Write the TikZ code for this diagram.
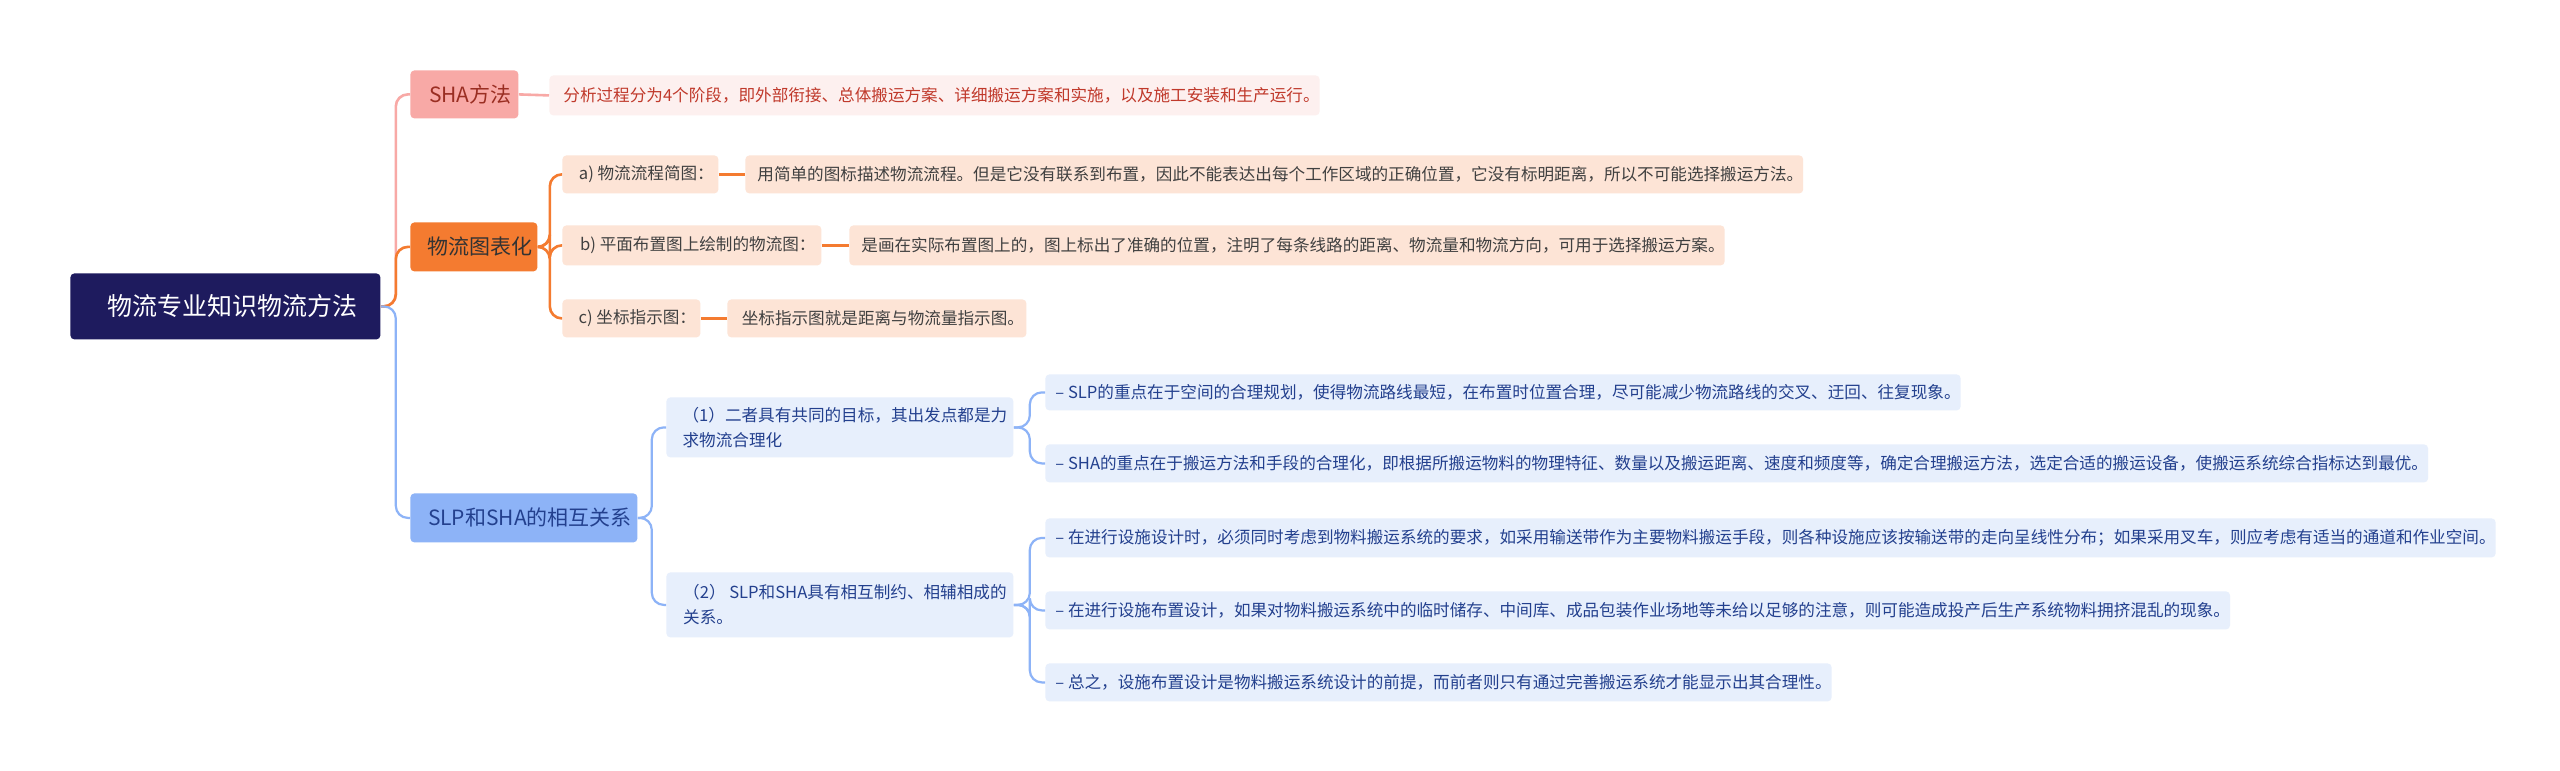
\documentclass[tikz,border=0pt]{standalone}
\usepackage{fontspec}
\setmainfont{Noto Sans CJK SC}
\usetikzlibrary{positioning}
\definecolor{rootc}{HTML}{1E1B5E}
\definecolor{pinkc}{HTML}{F8A9A6}
\definecolor{pinkl}{HTML}{FDF0EF}
\definecolor{redt}{HTML}{C0392B}
\definecolor{orac}{HTML}{F47B30}
\definecolor{oral}{HTML}{FDE4D6}
\definecolor{bluec}{HTML}{8DB3F7}
\definecolor{bluel}{HTML}{E7EFFC}
\definecolor{bluet}{HTML}{23408E}
\begin{document}
\begin{tikzpicture}[x=0.5pt,y=-0.5pt,
  box/.style={rounded corners=2pt,inner sep=0pt,anchor=north west,align=left},
  rootbox/.style={box,fill=rootc,text=white,font=\fontsize{12.5}{15}\selectfont},
  catbox/.style={box,font=\fontsize{10.5}{13}\selectfont},
  leaf/.style={box,font=\fontsize{8.3}{12.5}\selectfont},
  pinkline/.style={draw=pinkc,line width=1.3pt,rounded corners=6pt},
  oraline/.style={draw=orac,line width=1.3pt,rounded corners=6pt},
  blueline/.style={draw=bluec,line width=1.1pt,rounded corners=6pt}]
  \fill[white] (0,0) rectangle (2560,771);
  % root
  \node[rootbox,minimum width=155pt,minimum height=33pt] (root) at (70,273) {\hspace{7pt}物流专业知识物流方法};
  % SHA branch
  \node[catbox,fill=pinkc,text=redt!80!black,minimum width=54pt,minimum height=24pt] (sha) at (410,70) {\hspace{6pt}SHA方法};
  \node[leaf,fill=pinkl,text=redt,minimum width=381pt,minimum height=20pt] (shat) at (549,75) {\hspace{7pt}分析过程分为4个阶段，即外部衔接、总体搬运方案、详细搬运方案和实施，以及施工安装和生产运行。};
  % flow chart branch
  \node[catbox,fill=orac,text=black!80,minimum width=63.5pt,minimum height=24.5pt] (flow) at (410,222) {\hspace{6pt}物流图表化};
  \node[leaf,fill=oral,text=black!75,minimum width=78pt,minimum height=19pt] (fa) at (562,155) {\hspace{6pt}a) 物流流程简图：};
  \node[leaf,fill=oral,text=black!75,minimum width=527pt,minimum height=19pt] (fat) at (745,155) {\hspace{6pt}用简单的图标描述物流流程。但是它没有联系到布置，因此不能表达出每个工作区域的正确位置，它没有标明距离，所以不可能选择搬运方法。};
  \node[leaf,fill=oral,text=black!75,minimum width=129.5pt,minimum height=20pt] (fb) at (562,225) {\hspace{6pt}b) 平面布置图上绘制的物流图：};
  \node[leaf,fill=oral,text=black!75,minimum width=435.5pt,minimum height=20pt] (fbt) at (849,225) {\hspace{6pt}是画在实际布置图上的，图上标出了准确的位置，注明了每条线路的距离、物流量和物流方向，可用于选择搬运方案。};
  \node[leaf,fill=oral,text=black!75,minimum width=69pt,minimum height=19pt] (fc) at (562,299) {\hspace{6pt}c) 坐标指示图：};
  \node[leaf,fill=oral,text=black!75,minimum width=149.5pt,minimum height=19pt] (fct) at (727,299) {\hspace{6pt}坐标指示图就是距离与物流量指示图。};
  % SLP/SHA branch
  \node[catbox,fill=bluec,text=bluet,minimum width=113.5pt,minimum height=24.5pt] (rel) at (410,493) {\hspace{6pt}SLP和SHA的相互关系};
  \node[leaf,fill=bluel,text=bluet,minimum width=173.5pt,minimum height=30pt] (r1) at (666,397) {\hspace{5pt}（1）二者具有共同的目标，其出发点都是力\\\hspace{5pt}求物流合理化};
  \node[leaf,fill=bluel,text=bluet,minimum width=173.5pt,minimum height=32.5pt] (r2) at (666,572) {\hspace{5pt}（2） SLP和SHA具有相互制约、相辅相成的\\\hspace{5pt}关系。};
  \node[leaf,fill=bluel,text=bluet,minimum width=455pt,minimum height=18pt] (r1a) at (1045,374) {\hspace{5pt}– SLP的重点在于空间的合理规划，使得物流路线最短，在布置时位置合理，尽可能减少物流路线的交叉、迂回、往复现象。};
  \node[leaf,fill=bluel,text=bluet,minimum width=690pt,minimum height=19pt] (r1b) at (1045,444) {\hspace{5pt}–  SHA的重点在于搬运方法和手段的合理化，即根据所搬运物料的物理特征、数量以及搬运距离、速度和频度等，确定合理搬运方法，选定合适的搬运设备，使搬运系统综合指标达到最优。};
  \node[leaf,fill=bluel,text=bluet,minimum width=722.5pt,minimum height=19.5pt] (r2a) at (1045,518) {\hspace{5pt}– 在进行设施设计时，必须同时考虑到物料搬运系统的要求，如采用输送带作为主要物料搬运手段，则各种设施应该按输送带的走向呈线性分布；如果采用叉车，则应考虑有适当的通道和作业空间。};
  \node[leaf,fill=bluel,text=bluet,minimum width=589.5pt,minimum height=19pt] (r2b) at (1045,591) {\hspace{5pt}– 在进行设施布置设计，如果对物料搬运系统中的临时储存、中间库、成品包装作业场地等未给以足够的注意，则可能造成投产后生产系统物料拥挤混乱的现象。};
  \node[leaf,fill=bluel,text=bluet,minimum width=390.5pt,minimum height=19pt] (r2c) at (1045,663) {\hspace{5pt}– 总之，设施布置设计是物料搬运系统设计的前提，而前者则只有通过完善搬运系统才能显示出其合理性。};
  % connectors
  \draw[pinkline] (root.east) -- ++(15,0) |- (sha.west);
  \draw[oraline] (root.east) -- ++(15,0) |- (flow.west);
  \draw[blueline] (root.east) -- ++(15,0) |- (rel.west);
  \draw[pinkline] (sha.east) -- (shat.west);
  \draw[oraline] (flow.east) -- ++(12,0) |- (fa.west);
  \draw[oraline] (flow.east) -- ++(12,0) |- (fb.west);
  \draw[oraline] (flow.east) -- ++(12,0) |- (fc.west);
  \draw[oraline] (fa.east) -- (fat.west);
  \draw[oraline] (fb.east) -- (fbt.west);
  \draw[oraline] (fc.east) -- (fct.west);
  \draw[blueline] (rel.east) -- ++(14,0) |- (r1.west);
  \draw[blueline] (rel.east) -- ++(14,0) |- (r2.west);
  \draw[blueline] (r1.east) -- ++(16,0) |- (r1a.west);
  \draw[blueline] (r1.east) -- ++(16,0) |- (r1b.west);
  \draw[blueline] (r2.east) -- ++(16,0) |- (r2a.west);
  \draw[blueline] (r2.east) -- ++(16,0) |- (r2b.west);
  \draw[blueline] (r2.east) -- ++(16,0) |- (r2c.west);
\end{tikzpicture}
\end{document}
